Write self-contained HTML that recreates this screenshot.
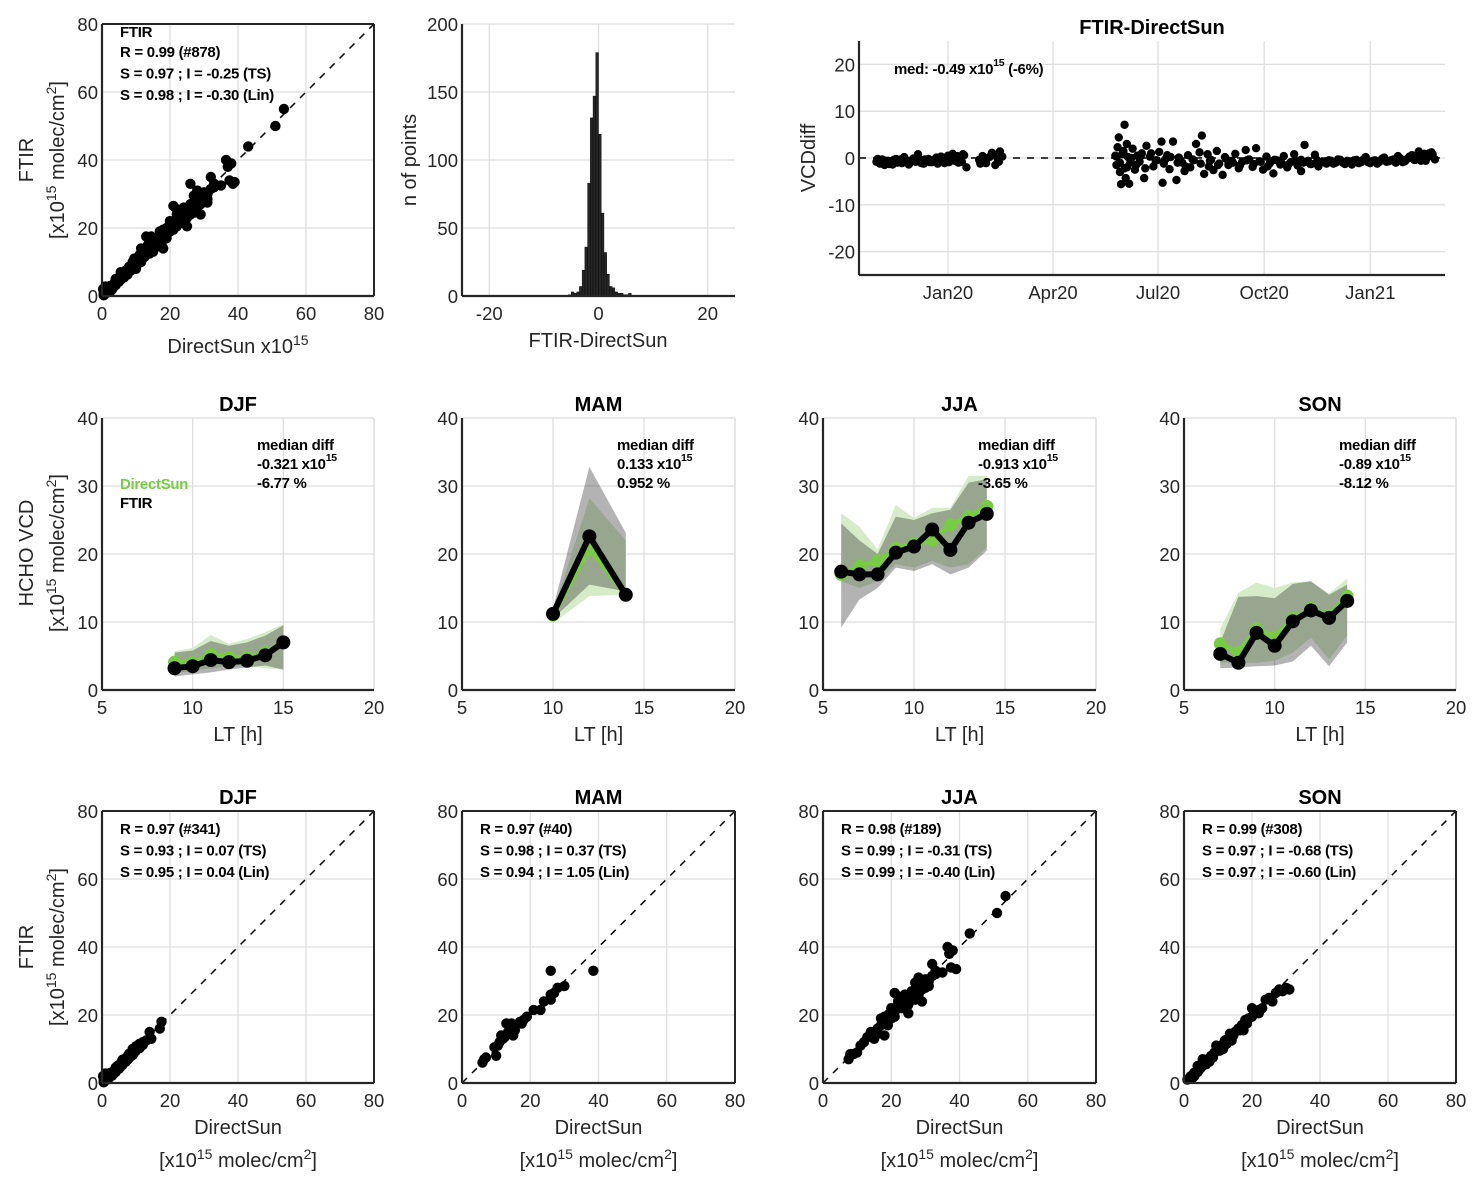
<!DOCTYPE html>
<html><head><meta charset="utf-8"><style>
html,body{margin:0;padding:0;background:#fff;}
svg{display:block;font-family:"Liberation Sans",Arial,sans-serif;}
.tk{font-size:18.5px;fill:#262626;}
.lab{font-size:20px;fill:#262626;}
.ttl{font-size:20px;font-weight:bold;fill:#000;}
.ann{font-size:15px;font-weight:bold;fill:#000;letter-spacing:-0.3px;}
</style></head><body>
<svg id="fig" width="1483" height="1188" viewBox="0 0 1483 1188" xmlns="http://www.w3.org/2000/svg"></svg>
<script>
// ---------- data ----------
const scatDJF=[[0.5,0.8],[1,1.5],[1.5,1],[2,2.5],[2,1.5],[2.5,2],[3,3],[3,2.2],[3.5,3.5],[4,3.2],[4,4.5],[4.5,4],[5,5],[5,4.2],[5.5,5.8],[6,5.3],[6,6.8],[6.5,6],[7,7.2],[7,6.3],[7.5,7.8],[8,7.4],[8.5,8.5],[9,8.2],[9,10],[9.5,9],[10,9.5],[10.5,10.5],[11,10.2],[11,11.5],[12,12],[13,12.5],[14,15],[14.5,13],[17,16],[17.5,18],[0.3,2],[1,2.8],[0.5,0.2],[1.5,2],[2.5,3],[3.5,2.8],[4.5,5],[5.5,4.8],[6.5,7],[7.5,6.8],[8,8.6],[10,10.8],[12,11.2]];
const scatMAM=[[6,6],[6.5,7],[7,7.5],[9.5,10.5],[10,8],[10.5,11],[11,12],[11.5,14],[12,13],[12.5,13.5],[13,17.5],[13.5,15],[14,16],[14.5,17.5],[15,14],[15.5,15.5],[17,18],[17.5,17.5],[18,18.5],[19,19.5],[21,21.5],[23,21.5],[24,24],[26,24.5],[26,26],[26,33],[27,26.5],[28,28],[30,28.5],[38.5,33]];
const scatJJA=[[7.5,7],[8,8.5],[9,8.5],[10,9],[11,11],[12,12],[13,13.5],[14,14],[15,15],[15,13],[16,16],[17,17],[17,19],[18,14],[18,18],[19,17],[19,20],[20,19],[20,22],[21,21],[21,26.5],[22,24],[23,22],[24,26],[25,23],[25,20.5],[26,25],[27,27],[27,29.5],[28,26],[28,31],[29,24],[29,27.5],[30,28],[31,30],[32,35],[32,31.5],[33,33],[35,32.5],[36.5,40],[37,38],[37.5,34],[39,33.5],[38,39],[43,44],[51,50],[53.5,55],[14,15],[16,14.5],[18,19.5],[19,18.5],[20,20.5],[21,19.5],[22,22],[22,25.5],[23,24],[24,22.5],[26,27],[27,24.5],[28,28.5],[30,30.5],[31,28.5],[33,32]];
const scatSON=[[1,1],[2,2],[2.5,1.5],[3,3],[4,3.2],[4,5],[5,4.5],[5.5,7],[6,6],[7,7],[7.5,6.3],[8,8],[9,9],[9.5,11],[10,10],[11,11],[11.5,10],[12,12.5],[13,13],[13.5,14.5],[14,12.5],[15,15],[16,16],[17,17],[17.5,15.5],[18,18.5],[19,19],[20,22],[21,20.5],[22,21.5],[23,22],[24,24.5],[25,25],[26,24],[27,26.5],[28,27.5],[29,27],[30,28],[31,27.5],[3,2],[4.5,4],[6.5,5.5],[8.5,7.5],[10.5,9.5],[12.5,11.5],[14.5,14],[16.5,15.5],[18.5,17.5],[20,19.5],[22,20.5]];
const scatStats={
 DJF:["R = 0.97 (#341)","S = 0.93 ; I = 0.07 (TS)","S = 0.95 ; I = 0.04 (Lin)"],
 MAM:["R = 0.97 (#40)","S = 0.98 ; I = 0.37 (TS)","S = 0.94 ; I = 1.05 (Lin)"],
 JJA:["R = 0.98 (#189)","S = 0.99 ; I = -0.31 (TS)","S = 0.99 ; I = -0.40 (Lin)"],
 SON:["R = 0.99 (#308)","S = 0.97 ; I = -0.68 (TS)","S = 0.97 ; I = -0.60 (Lin)"]};
const histCenters=[-5.25,-4.75,-4.25,-3.75,-3.25,-2.75,-2.25,-1.75,-1.25,-0.75,-0.25,0.25,0.75,1.25,1.75,2.25,2.75,3.25,3.75,4.25,4.75,5.25,5.75];
const histCounts=[1,3,2,3,7,19,36,83,131,147,179,119,61,32,16,7,6,3,2,2,1,1,2];
const tsDays=[-62,-59,-57,-55,-52,-50,-48,-45,-43,-40,-38,-36,-33,-31,-28,-26,-24,-21,-19,-17,-14,-12,-10,-7,-5,-3,0,2,4,6,8,10,12,14,16,27,30,33,36,39,41,43,45,47,
-61,-58,-54,-51,-47,-44,-41,-37,-34,-30,-27,-23,-20,-16,-13,-9,-6,-2,1,5,9,13,28,32,38,44,
145,146,147,148,149,150,151,152,153,153,154,155,156,157,158,160,162,164,166,168,170,172,175,178,180,183,185,186,188,190,192,195,198,200,203,205,208,210,213,215,218,220,222,225,226,228,230,233,235,238,240,243,246,249,252,255,258,261,264,267,270,273,276,279,282,285,288,291,294,297,300,303,306,306,309,312,315,318,321,326,330,334,338,342,346,350,354,358,362,366,370,374,378,382,386,390,394,398,402,405,408,411,414,417,420,
146,149,152,155,159,163,167,171,176,181,187,193,199,206,212,219,227,234,241,247,253,259,265,271,277,283,289,295,301,308,314,320,324,328,332,336,340,344,348,352,356,360,364,368,372,376,380,384,388,392,396,400,404,407,410,413,416,419,422];
const tsVals=[-0.8,-1.2,-0.3,-1.5,-0.6,-0.9,-1.4,-0.2,-0.7,-1.1,0.2,-0.5,-1.0,-0.4,-0.8,0.8,-0.3,-1.2,-0.6,-0.2,-0.9,-0.4,0.1,-0.7,-0.3,-1.1,0.5,-0.2,0.9,-0.6,0.4,-0.3,-0.8,0.6,-2.0,-0.4,0.4,-1.1,0.2,0.9,-1.5,-0.2,1.4,0.3,
-0.2,-0.9,-0.6,-1.3,-0.4,-1.0,-0.3,-0.8,-1.4,-0.1,-0.7,-1.1,-0.3,-0.9,-0.5,-1.2,0.3,-0.6,-0.9,0.2,-1.0,0.8,-1.2,-0.5,1.1,-0.8,
0.5,-1.5,2.3,4.4,-3.0,-5.6,0.8,1.5,7.1,-2.2,-4.3,3.0,0.2,-5.5,-1.0,2.0,-2.5,0.5,-0.8,1.0,-4.3,2.6,0.3,-1.8,-0.5,1.3,3.5,-5.3,-0.4,0.6,-2.4,3.5,-4.7,0.1,-1.0,-2.8,0.6,-2.0,-0.5,3.0,1.2,4.8,-3.4,0.8,-1.8,-0.4,-2.6,1.5,-1.2,-3.6,0.2,-1.5,-0.6,0.9,-2.2,-0.8,1.7,-0.3,-1.9,2.1,-0.7,-2.5,0.3,-1.1,-3.3,-0.5,-1.4,0.4,-2.0,-0.9,0.8,-1.6,-0.4,-2.8,2.8,-0.6,-1.3,0.7,-1.8,-0.9,-0.5,-1.2,-0.3,-1.0,-0.6,-1.4,-0.4,-0.9,0.2,-1.1,-0.5,-0.8,0.1,-0.7,-0.3,0.4,-0.9,-0.2,0.6,-0.4,1.4,0.2,-0.6,1.0,0.8,0.3,
-1.0,1.2,-2.0,0.0,-1.5,0.4,-2.2,1.0,-0.5,-1.2,0.2,-1.0,-1.8,-0.3,-1.2,-0.6,-1.5,-0.2,-1.0,-1.6,-0.5,-1.3,-0.8,-1.8,-0.4,-1.1,-1.4,-0.7,-1.0,-1.3,-0.5,-0.9,-1.2,-0.6,-1.0,-0.4,-1.3,-0.8,-0.5,-1.1,-0.3,-0.9,-0.6,-1.2,-0.2,-0.8,-0.5,-1.0,-0.1,-0.7,0.3,-0.4,0.6,-0.6,0.9,0.2,1.2,-0.3,0.7];
const diurnal={
 DJF:{h:[9,10,11,12,13,14,15],ds:[4.1,4.0,5.2,4.8,4.8,5.5,7.0],ft:[3.2,3.5,4.4,4.1,4.3,5.1,7.0],
      dsU:[5.7,6.2,8.1,6.8,7.5,8.5,9.7],dsL:[2.5,2.8,3.2,3.5,3.5,3.2,3.0],
      ftU:[5.5,5.8,7.2,6.5,7.0,8.0,9.5],ftL:[2.0,2.3,2.6,3.0,3.3,3.6,3.0],
      ann:["-0.321 x10","-6.77 %"]},
 MAM:{h:[10,12,14],ds:[11.0,20.8,14.0],ft:[11.2,22.6,14.0],
      dsU:[11.5,28.2,22.0],dsL:[9.8,13.8,14.0],ftU:[12.0,32.8,23.1],ftL:[10.5,15.5,14.5],
      ann:["0.133 x10","0.952 %"]},
 JJA:{h:[6,7,8,9,10,11,12,13,14],ds:[17.0,18.2,19.0,20.8,21.5,22.0,24.3,25.5,27.0],ft:[17.4,17.0,17.0,20.2,21.1,23.6,20.6,24.6,25.9],
      dsU:[26.0,24.0,20.7,27.2,25.3,26.8,26.8,31.5,31.5],dsL:[16.0,15.0,16.0,18.5,18.0,19.0,18.0,18.5,21.0],
      ftU:[24.5,22.0,20.0,25.5,25.0,26.0,26.5,30.5,31.0],ftL:[9.2,13.3,15.0,18.0,17.5,18.5,17.0,18.0,20.5],
      ann:["-0.913 x10","-3.65 %"]},
 SON:{h:[7,8,9,10,11,12,13,14],ds:[6.8,5.5,9.0,7.8,10.5,12.0,11.0,13.8],ft:[5.3,4.0,8.4,6.5,10.1,11.7,10.6,13.1],
      dsU:[9.0,14.3,15.8,15.0,15.8,16.0,14.2,16.4],dsL:[4.0,4.0,4.0,4.3,5.5,7.7,4.5,8.0],
      ftU:[7.0,13.7,13.8,13.5,15.6,16.0,14.0,15.5],ftL:[3.2,3.3,3.5,3.6,4.2,6.5,3.5,7.0],
      ann:["-0.89 x10","-8.12 %"]}};
const seasons=["DJF","MAM","JJA","SON"];
const colX=[[102,374],[462,735],[823,1096],[1184,1456]];

// ---------- helpers ----------
const NS="http://www.w3.org/2000/svg";
const svg=document.getElementById('fig');
function el(tag,attrs,parent,txt){const e=document.createElementNS(NS,tag);for(const k in attrs)e.setAttribute(k,attrs[k]);if(txt!==undefined)e.textContent=txt;(parent||svg).appendChild(e);return e;}
function lin(d0,d1,r0,r1){return v=>r0+(v-d0)*(r1-r0)/(d1-d0);}
function grp(name){const g=el('g',{},svg);return g;}
function supText(g,x,y,cls,pre,post,anchor,extra){
  const t=el('text',Object.assign({x:x,y:y,class:cls,'text-anchor':anchor||'start'},extra||{}),g);
  el('tspan',{},t,pre);el('tspan',{dy:-8,'font-size':'0.7em'},t,'15');
  if(post)el('tspan',{dy:8},t,post);return t;}
function axesFrame(g,x0,x1,y0,y1,xt,yt,sx,sy){
  xt.forEach(v=>el('line',{x1:sx(v),x2:sx(v),y1:y0,y2:y1,stroke:'#dedede','stroke-width':1.3},g));
  yt.forEach(v=>el('line',{x1:x0,x2:x1,y1:sy(v),y2:sy(v),stroke:'#dedede','stroke-width':1.3},g));
}
function axesLines(g,x0,x1,y0,y1,xt,yt,sx,sy,box,boxColor,xl,yl){
  if(box){el('line',{x1:x0,x2:x1,y1:y1,y2:y1,stroke:boxColor,'stroke-width':box==='dark'?2:1.3},g);
    el('line',{x1:x1,x2:x1,y1:y0,y2:y1,stroke:boxColor,'stroke-width':box==='dark'?2:1.3},g);}
  el('line',{x1:x0,x2:x1,y1:y0,y2:y0,stroke:'#262626','stroke-width':2.2},g);
  el('line',{x1:x0,x2:x0,y1:y0,y2:y1,stroke:'#262626','stroke-width':2.2},g);
  (xl||xt).forEach((v,i)=>{const t=el('text',{x:sx(xt[i]),y:y0+24,class:'tk','text-anchor':'middle'},g,String(v));});
  (yl||yt).forEach((v,i)=>{const t=el('text',{x:x0-4,y:sy(yt[i])+7,class:'tk','text-anchor':'end'},g,String(v));});
}

// ---------- scatter panels ----------
function scatter(name,x0,x1,y0,y1,pts,lines,firstLine){
  const g=grp(name);
  const sx=lin(0,80,x0,x1),sy=lin(0,80,y0,y1);
  const tk=[0,20,40,60,80];
  axesFrame(g,x0,x1,y0,y1,tk,tk,sx,sy);
  const d=el('line',{x1:sx(0),y1:sy(0),x2:sx(80),y2:sy(80),stroke:'#000','stroke-width':1.5,'stroke-dasharray':'7 7'},g);
  
  pts.forEach(p=>{const c=el('circle',{cx:sx(p[0]),cy:sy(p[1]),r:5.2,fill:'#000'},g);
    });
  axesLines(g,x0,x1,y0,y1,tk,tk,sx,sy,'dark','#262626');
  let yy=y1+(firstLine?13:23);
  if(firstLine){el('text',{x:x0+18,y:yy,class:'ann'},g,firstLine);yy+=20;}
  lines.forEach((s,i)=>{const t=el('text',{x:x0+18,y:yy+i*21.5,class:'ann'},g,s);});
  return g;
}
const scatAll=scatDJF.concat(scatMAM,scatJJA,scatSON);
scatter('scatter-all',102,374,296,24,scatAll,["R = 0.99 (#878)","S = 0.97 ; I = -0.25 (TS)","S = 0.98 ; I = -0.30 (Lin)"],"FTIR");
const pts={DJF:scatDJF,MAM:scatMAM,JJA:scatJJA,SON:scatSON};
seasons.forEach((s,i)=>{const g=scatter('scatter-'+s.toLowerCase(),colX[i][0],colX[i][1],1083,811,pts[s],scatStats[s]);
  const cx=(colX[i][0]+colX[i][1])/2;
  const t=el('text',{x:cx,y:804,class:'ttl','text-anchor':'middle'},g,s);
  el('text',{x:cx,y:1134,class:'lab','text-anchor':'middle'},g,'DirectSun');
  const u=supText(g,cx,1167,'lab','[x10',' molec/cm','middle');
  el('tspan',{dy:-8,'font-size':'0.7em'},u,'2');el('tspan',{dy:8},u,']');
});
(function(){const g=grp('scatter-all-labels');
  supText(g,238,353,'lab','DirectSun x10','', 'middle');
  el('text',{x:0,y:0,class:'lab','text-anchor':'middle',transform:'translate(33,160) rotate(-90)'},g,'FTIR');
  const u=supText(g,0,0,'lab','[x10',' molec/cm','middle',{transform:'translate(64,160) rotate(-90)'});
  el('tspan',{dy:-8,'font-size':'0.7em'},u,'2');el('tspan',{dy:8},u,']');
  el('text',{x:0,y:0,class:'lab','text-anchor':'middle',transform:'translate(33,947) rotate(-90)'},g,'FTIR');
  const u2=supText(g,0,0,'lab','[x10',' molec/cm','middle',{transform:'translate(64,947) rotate(-90)'});
  el('tspan',{dy:-8,'font-size':'0.7em'},u2,'2');el('tspan',{dy:8},u2,']');
})();

// ---------- histogram ----------
(function(){const g=grp('histogram');
  const x0=462,x1=735,y0=296,y1=24;const sx=lin(-25,25,x0,x1),sy=lin(0,200,y0,y1);
  const xt=[-20,0,20],yt=[0,50,100,150,200];
  axesFrame(g,x0,x1,y0,y1,xt,yt,sx,sy);
  histCenters.forEach((c,i)=>{const r=el('rect',{x:sx(c-0.25),y:sy(histCounts[i]),width:sx(c+0.25)-sx(c-0.25),height:y0-sy(histCounts[i]),fill:'#262626',stroke:'#000','stroke-width':0.4},g);
    });
  axesLines(g,x0,x1,y0,y1,xt,yt,sx,sy,null);
  el('text',{x:598,y:347,class:'lab','text-anchor':'middle'},g,'FTIR-DirectSun');
  el('text',{x:0,y:0,class:'lab','text-anchor':'middle',transform:'translate(416,160) rotate(-90)'},g,'n of points');
})();

// ---------- time series ----------
(function(){const g=grp('time-series');
  const x0=859,x1=1445,y0=275,y1=41;
  const sx=lin(0,91,948,1053),sy=lin(-25,25,y0,y1);
  const xt=[0,91,182,274,366],xl=['Jan20','Apr20','Jul20','Oct20','Jan21'],yt=[-20,-10,0,10,20];
  xt.forEach(v=>el('line',{x1:sx(v),x2:sx(v),y1:y0,y2:y1,stroke:'#dedede','stroke-width':1.3},g));
  yt.forEach(v=>el('line',{x1:x0,x2:x1,y1:sy(v),y2:sy(v),stroke:'#dedede','stroke-width':1.3},g));
  tsDays.forEach((d,i)=>{const c=el('circle',{cx:sx(d),cy:sy(tsVals[i]),r:4.2,fill:'#000'},g);
    });
  el('line',{x1:x0,x2:x1,y1:sy(0),y2:sy(0),stroke:'#000','stroke-width':1.5,'stroke-dasharray':'7 7'},g);
  el('line',{x1:x0,x2:x1,y1:y0,y2:y0,stroke:'#262626','stroke-width':2.2},g);
  el('line',{x1:x0,x2:x0,y1:y0,y2:y1,stroke:'#262626','stroke-width':2.2},g);
  xt.forEach((v,i)=>el('text',{x:sx(v),y:y0+24,class:'tk','text-anchor':'middle'},g,xl[i]));
  yt.forEach(v=>el('text',{x:x0-4,y:sy(v)+7,class:'tk','text-anchor':'end'},g,String(v)));
  const t=el('text',{x:1152,y:34,class:'ttl','text-anchor':'middle'},g,'FTIR-DirectSun');
  el('text',{x:0,y:0,class:'lab','text-anchor':'middle',transform:'translate(815,158) rotate(-90)'},g,'VCDdiff');
  supText(g,894,74,'ann','med: -0.49 x10',' (-6%)');
})();

// ---------- diurnal panels ----------
seasons.forEach((s,i)=>{
  const d=diurnal[s];const g=grp('diurnal-'+s.toLowerCase());
  const x0=colX[i][0],x1=colX[i][1],y0=690,y1=418;
  const sx=lin(5,20,x0,x1),sy=lin(0,40,y0,y1);
  const xt=[5,10,15,20],yt=[0,10,20,30,40];
  axesFrame(g,x0,x1,y0,y1,xt,yt,sx,sy);
  function band(U,L,fill,name){let p=d.h.map((h,k)=>sx(h)+','+sy(U[k]));p=p.concat(d.h.slice().reverse().map((h,k)=>sx(h)+','+sy(L[d.h.length-1-k])));
    const e=el('polygon',{points:p.join(' '),fill:fill},g);}
  band(d.dsU,d.dsL,'#d6ecc9','directsun-range-band');
  band(d.ftU,d.ftL,'rgba(32,32,32,0.34)','ftir-range-band');
  function series(v,col,w,r,name){const l=el('polyline',{points:d.h.map((h,k)=>sx(h)+','+sy(v[k])).join(' '),fill:'none',stroke:col,'stroke-width':w,'stroke-linejoin':'round'},g);
    
    d.h.forEach((h,k)=>{const c=el('circle',{cx:sx(h),cy:sy(v[k]),r:r,fill:col},g);});}
  series(d.ds,'#77cc44',5,6.5,'directsun');
  series(d.ft,'#000',6,7,'ftir');
  axesLines(g,x0,x1,y0,y1,xt,yt,sx,sy,'light','#dedede');
  const t=el('text',{x:(x0+x1)/2,y:411,class:'ttl','text-anchor':'middle'},g,s);
  el('text',{x:x0+155,y:450,class:'ann'},g,'median diff');
  supText(g,x0+155,469,'ann',d.ann[0],'');
  el('text',{x:x0+155,y:488,class:'ann'},g,d.ann[1]);
  el('text',{x:(x0+x1)/2,y:741,class:'lab','text-anchor':'middle'},g,'LT [h]');
});
(function(){const g=grp('diurnal-legend');
  el('text',{x:120,y:489,class:'ann',style:'fill:#77cc44'},g,'DirectSun');
  el('text',{x:120,y:508,class:'ann'},g,'FTIR');
  el('text',{x:0,y:0,class:'lab','text-anchor':'middle',transform:'translate(33,553) rotate(-90)'},g,'HCHO VCD');
  const u=supText(g,0,0,'lab','[x10',' molec/cm','middle',{transform:'translate(64,553) rotate(-90)'});
  el('tspan',{dy:-8,'font-size':'0.7em'},u,'2');el('tspan',{dy:8},u,']');
})();
</script>
</body></html>
